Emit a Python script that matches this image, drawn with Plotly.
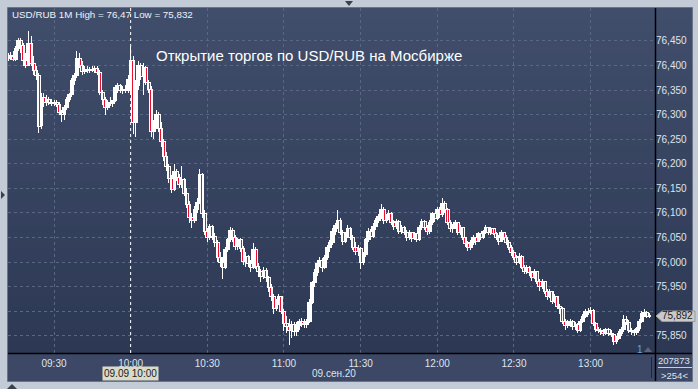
import pandas as pd
import plotly.graph_objects as go

# ---------------- data (USD/RUB, 1-minute candles, 09.09.2020) ----------------
start_time = "2020-09-09 09:12"

opens = [
76.415,76.420,76.418,76.412,76.435,76.450,76.440,76.410,76.400,76.445,
76.405,76.390,76.380,76.278,76.335,76.325,76.330,76.325,76.322,76.325,
76.320,76.305,76.300,76.315,76.330,76.340,76.370,76.380,76.415,76.400,
76.388,76.392,76.390,76.392,76.390,76.394,76.385,76.345,76.330,76.315,
76.325,76.322,76.328,76.355,76.360,76.350,76.352,76.350,76.372,76.410,
76.285,76.360,76.400,76.378,76.395,76.365,76.352,76.265,76.280,76.300,
76.272,76.245,76.215,76.195,76.170,76.148,76.185,76.172,76.158,76.168,
76.140,76.118,76.090,76.085,76.108,76.122,76.178,76.098,76.062,76.050,
76.072,76.052,76.040,76.010,76.000,75.990,76.025,76.045,76.065,76.050,
76.032,76.045,76.028,76.002,76.012,75.998,75.990,76.025,75.992,75.980,
75.970,75.982,75.968,75.948,75.930,75.905,75.918,75.930,75.900,75.875,
75.868,75.860,75.872,75.858,75.870,75.880,75.876,75.872,75.880,75.918,
75.958,75.978,75.998,76.004,75.988,76.010,76.030,76.040,76.062,76.075,
76.085,76.060,76.042,76.055,76.068,76.050,76.030,76.022,76.028,76.000,
76.015,76.045,76.062,76.052,76.072,76.085,76.092,76.108,76.085,76.092,
76.098,76.080,76.072,76.082,76.062,76.070,76.060,76.050,76.060,76.048,
76.058,76.046,76.070,76.082,76.070,76.062,76.080,76.098,76.088,76.108,
76.096,76.120,76.108,76.080,76.068,76.072,76.080,76.060,76.070,76.050,
76.038,76.030,76.040,76.050,76.042,76.058,76.050,76.062,76.070,76.060,
76.068,76.058,76.050,76.042,76.060,76.050,76.040,76.030,76.020,76.010,
76.000,76.012,75.990,75.980,75.990,75.978,75.968,75.980,75.960,75.950,
75.960,75.940,75.930,75.940,75.920,75.930,75.910,75.905,75.880,75.870,
75.876,75.880,75.868,75.874,75.860,75.880,75.890,75.900,75.898,75.902,
75.875,75.862,75.860,75.858,75.855,75.862,75.855,75.852,75.838,75.845,
75.855,75.862,75.884,75.878,75.860,75.858,75.856,75.864,75.880,75.895,
75.898,75.890]

highs = [
76.425,76.428,76.430,76.440,76.455,76.455,76.445,76.425,76.470,76.460,
76.420,76.400,76.385,76.345,76.345,76.340,76.335,76.332,76.330,76.330,
76.325,76.310,76.320,76.335,76.345,76.375,76.385,76.430,76.425,76.410,
76.398,76.398,76.396,76.398,76.398,76.398,76.390,76.350,76.335,76.330,
76.335,76.330,76.360,76.365,76.362,76.358,76.360,76.380,76.440,76.420,
76.370,76.410,76.405,76.405,76.400,76.370,76.358,76.290,76.310,76.305,
76.285,76.250,76.225,76.200,76.178,76.200,76.190,76.180,76.195,76.172,
76.150,76.125,76.100,76.115,76.130,76.190,76.182,76.105,76.070,76.078,
76.075,76.060,76.045,76.020,76.010,76.030,76.050,76.072,76.070,76.055,
76.050,76.048,76.032,76.020,76.015,76.005,76.038,76.030,75.998,75.985,
75.990,75.988,75.972,75.955,75.935,75.925,75.935,75.932,75.905,75.890,
75.885,75.880,75.878,75.878,75.885,75.886,75.884,75.885,75.925,75.962,
75.985,76.005,76.010,76.008,76.015,76.035,76.045,76.070,76.080,76.105,
76.090,76.065,76.062,76.075,76.072,76.055,76.040,76.035,76.030,76.020,
76.050,76.070,76.068,76.080,76.090,76.098,76.118,76.112,76.098,76.105,
76.102,76.085,76.088,76.085,76.075,76.074,76.065,76.065,76.062,76.062,
76.060,76.075,76.088,76.085,76.075,76.085,76.102,76.100,76.112,76.112,
76.130,76.125,76.110,76.085,76.078,76.085,76.082,76.075,76.072,76.052,
76.042,76.045,76.055,76.052,76.062,76.060,76.065,76.075,76.072,76.072,
76.070,76.062,76.055,76.065,76.062,76.055,76.045,76.035,76.025,76.015,
76.018,76.015,75.995,75.995,75.992,75.982,75.985,75.982,75.965,75.965,
75.962,75.945,75.945,75.942,75.935,75.932,75.915,75.908,75.885,75.882,
75.885,75.882,75.878,75.876,75.885,75.895,75.905,75.906,75.908,75.905,
75.878,75.868,75.866,75.864,75.866,75.865,75.862,75.855,75.850,75.860,
75.868,75.892,75.890,75.882,75.866,75.864,75.868,75.885,75.900,75.904,
75.900,75.896]

lows = [
76.410,76.412,76.410,76.410,76.430,76.425,76.400,76.395,76.398,76.400,
76.380,76.370,76.262,76.270,76.315,76.318,76.320,76.318,76.318,76.315,
76.300,76.285,76.290,76.310,76.325,76.335,76.360,76.375,76.395,76.380,
76.383,76.385,76.384,76.386,76.385,76.380,76.340,76.320,76.300,76.310,
76.318,76.315,76.325,76.345,76.345,76.342,76.345,76.345,76.340,76.260,
76.255,76.350,76.370,76.340,76.360,76.345,76.255,76.250,76.270,76.265,
76.235,76.205,76.185,76.160,76.140,76.145,76.165,76.150,76.150,76.135,
76.110,76.080,76.070,76.080,76.100,76.118,76.090,76.055,76.040,76.045,
76.045,76.030,76.000,75.990,75.965,75.985,76.020,76.040,76.040,76.025,
76.025,76.020,75.995,75.990,75.990,75.980,75.985,75.985,75.970,75.960,
75.965,75.960,75.940,75.920,75.895,75.900,75.912,75.895,75.860,75.855,
75.832,75.845,75.850,75.850,75.862,75.868,75.865,75.866,75.876,75.915,
75.950,75.972,75.990,75.980,75.985,76.005,76.020,76.035,76.055,76.068,
76.055,76.035,76.038,76.050,76.045,76.025,76.015,76.012,75.985,75.995,
76.010,76.040,76.045,76.048,76.065,76.080,76.088,76.078,76.080,76.085,
76.075,76.065,76.068,76.058,76.058,76.055,76.042,76.045,76.040,76.045,
76.040,76.042,76.065,76.065,76.055,76.058,76.075,76.082,76.085,76.090,
76.092,76.100,76.075,76.062,76.060,76.068,76.055,76.055,76.045,76.030,
76.022,76.025,76.035,76.035,76.040,76.045,76.046,76.058,76.055,76.056,
76.055,76.045,76.035,76.040,76.045,76.035,76.025,76.012,76.005,75.995,
75.996,75.985,75.975,75.975,75.972,75.962,75.965,75.955,75.942,75.946,
75.935,75.922,75.926,75.915,75.916,75.905,75.895,75.875,75.862,75.865,
75.868,75.862,75.862,75.855,75.858,75.876,75.886,75.892,75.894,75.870,
75.858,75.855,75.852,75.850,75.852,75.850,75.848,75.832,75.834,75.842,
75.850,75.858,75.872,75.855,75.852,75.850,75.852,75.860,75.876,75.888,
75.886,75.886]

closes = [
76.420,76.418,76.412,76.435,76.450,76.440,76.410,76.400,76.445,76.405,
76.390,76.380,76.275,76.335,76.325,76.330,76.325,76.322,76.325,76.320,
76.305,76.300,76.315,76.330,76.340,76.370,76.380,76.415,76.400,76.388,
76.392,76.390,76.392,76.390,76.394,76.385,76.345,76.330,76.315,76.325,
76.322,76.328,76.355,76.360,76.350,76.352,76.350,76.372,76.410,76.285,
76.360,76.400,76.378,76.395,76.365,76.352,76.265,76.280,76.300,76.272,
76.245,76.215,76.195,76.170,76.148,76.185,76.172,76.158,76.168,76.140,
76.118,76.090,76.085,76.108,76.122,76.178,76.098,76.062,76.050,76.072,
76.052,76.040,76.010,76.000,75.990,76.025,76.045,76.065,76.050,76.032,
76.045,76.028,76.002,76.012,75.998,75.990,76.025,75.992,75.980,75.970,
75.982,75.968,75.948,75.930,75.905,75.918,75.930,75.900,75.875,75.868,
75.860,75.872,75.858,75.870,75.880,75.876,75.872,75.880,75.918,75.958,
75.978,75.998,76.004,75.988,76.010,76.030,76.040,76.062,76.075,76.085,
76.060,76.042,76.055,76.068,76.050,76.030,76.022,76.028,76.000,76.015,
76.045,76.062,76.052,76.072,76.085,76.092,76.108,76.085,76.092,76.098,
76.080,76.072,76.082,76.062,76.070,76.060,76.050,76.060,76.048,76.058,
76.046,76.070,76.082,76.070,76.062,76.080,76.098,76.088,76.108,76.096,
76.120,76.108,76.080,76.068,76.072,76.080,76.060,76.070,76.050,76.038,
76.030,76.040,76.050,76.042,76.058,76.050,76.062,76.070,76.060,76.068,
76.058,76.050,76.042,76.060,76.050,76.040,76.030,76.020,76.010,76.000,
76.012,75.990,75.980,75.990,75.978,75.968,75.980,75.960,75.950,75.960,
75.940,75.930,75.940,75.920,75.930,75.910,75.905,75.880,75.870,75.876,
75.880,75.868,75.874,75.860,75.880,75.890,75.900,75.898,75.902,75.875,
75.862,75.860,75.858,75.855,75.862,75.855,75.852,75.838,75.845,75.855,
75.862,75.884,75.878,75.860,75.858,75.856,75.864,75.880,75.895,75.898,
75.890,75.892]

y_ticks = [75.85, 75.90, 75.95, 76.00, 76.05, 76.10, 76.15, 76.20,
           76.25, 76.30, 76.35, 76.40, 76.45]
y_tick_labels = ["75,850", "", "75,950", "76,000", "76,050", "76,100", "76,150",
                 "76,200", "76,250", "76,300", "76,350", "76,400", "76,450"]
x_ticks = ["2020-09-09 09:30", "2020-09-09 10:00", "2020-09-09 10:30",
           "2020-09-09 11:00", "2020-09-09 11:30", "2020-09-09 12:00",
           "2020-09-09 12:30", "2020-09-09 13:00"]
x_tick_labels = ["09:30", "10:00", "10:30", "11:00", "11:30", "12:00", "12:30", "13:00"]

header_text = "USD/RUB 1M High = 76,47 Low = 75,832"
title_text = "Открытие торгов по USD/RUB на Мосбирже"
cursor_time = "2020-09-09 10:00"
cursor_label = "09.09 10:00"
date_label = "09.сен.20"
last_price = 75.892
last_price_label = "75,892"
volume_text = "207873"
bars_text = ">254<"

times = pd.date_range(start_time, periods=len(closes), freq="min")

# ---------------- geometry helpers (pixel -> paper) ----------------
W, H = 698, 389
L, R, T, B = 8, 655, 8, 353


def px(x):
    return (x - L) / (R - L)


def py(y):
    return (B - y) / (B - T)


FONT = "Liberation Sans, Arial, sans-serif"
TXT = "#dfe4ee"
UP = "#ffffff"
DOWN = "#e8102e"

# wicks
wx, wy = [], []
for t, h, l in zip(times, highs, lows):
    wx += [t, t, None]
    wy += [l, h, None]

up_x, up_b, up_h, dn_x, dn_b, dn_h = [], [], [], [], [], []
for t, o, c in zip(times, opens, closes):
    if c > o:
        up_x.append(t); up_b.append(o); up_h.append(max(c - o, 0.0005))
    else:
        dn_x.append(t); dn_b.append(c); dn_h.append(max(o - c, 0.0005))

fig = go.Figure()
fig.add_trace(go.Scatter(x=wx, y=wy, mode="lines",
                         line=dict(color="#ffffff", width=1),
                         hoverinfo="skip", showlegend=False))
fig.add_trace(go.Bar(x=up_x, y=up_h, base=up_b, width=72000,
                     marker=dict(color=UP, line=dict(color="#ffffff", width=1)),
                     hoverinfo="skip", showlegend=False))
fig.add_trace(go.Bar(x=dn_x, y=dn_h, base=dn_b, width=72000,
                     marker=dict(color=DOWN, line=dict(color="#ffffff", width=1)),
                     hoverinfo="skip", showlegend=False))

shapes = []
# gradient background over plot + right axis region
top_c = (0x41, 0x4e, 0x6b)
bot_c = (0x2c, 0x38, 0x54)
N = 30
for k in range(N):
    f = (k + 0.5) / N
    c = tuple(round(top_c[j] + (bot_c[j] - top_c[j]) * f) for j in range(3))
    shapes.append(dict(type="rect", xref="paper", yref="paper", layer="below",
                       x0=px(8), x1=px(692), y0=1 - (k + 1) / N - 0.002, y1=1 - k / N,
                       fillcolor="rgb(%d,%d,%d)" % c, line=dict(width=0)))
# bottom time-axis strip
shapes.append(dict(type="rect", xref="paper", yref="paper", layer="below",
                   x0=px(8), x1=px(692), y0=py(381), y1=py(353),
                   fillcolor="#3c4865", line=dict(width=0)))
# inner frame border
shapes.append(dict(type="rect", xref="paper", yref="paper", layer="above",
                   x0=px(7.5), x1=px(692.5), y0=py(381.5), y1=py(7.5),
                   line=dict(color="#6b7488", width=1)))
# black separators
shapes.append(dict(type="line", xref="paper", yref="paper", layer="above",
                   x0=px(655.5), x1=px(655.5), y0=py(381), y1=py(8),
                   line=dict(color="#000000", width=1.5)))
shapes.append(dict(type="line", xref="paper", yref="paper", layer="above",
                   x0=px(8), x1=px(692), y0=py(353.5), y1=py(353.5),
                   line=dict(color="#000000", width=1.5)))
# thin separator in bottom strip
shapes.append(dict(type="line", xref="paper", yref="paper", layer="above",
                   x0=px(651.5), x1=px(651.5), y0=py(378), y1=py(357),
                   line=dict(color="#1e2535", width=1)))
# line between volume and bar count
shapes.append(dict(type="line", xref="paper", yref="paper", layer="above",
                   x0=px(658), x1=px(692), y0=py(367.5), y1=py(367.5),
                   line=dict(color="#c8cfdc", width=1)))
# cursor (crosshair) vertical dotted line
shapes.append(dict(type="line", xref="x", yref="paper", layer="above",
                   x0=cursor_time, x1=cursor_time, y0=0, y1=1,
                   line=dict(color="#ffffff", width=1, dash="dot")))
# last price arrow box
shapes.append(dict(type="path", xref="paper", yref="paper", layer="above",
                   path="M %f %f L %f %f L %f %f L %f %f L %f %f Z" % (
                       px(656), py(316), px(662), py(311), px(695), py(311),
                       px(695), py(321.5), px(662), py(321.5)),
                   fillcolor="#c9c9c9", line=dict(color="#9a9a9a", width=1)))


def tri(pts, color="#3a404c"):
    p = "M " + " L ".join("%f %f" % (px(a), py(b)) for a, b in pts) + " Z"
    return dict(type="path", xref="paper", yref="paper", layer="above", path=p,
                fillcolor=color, line=dict(width=0))


shapes.append(tri([(345, 1), (353, 1), (349, 6)]))
shapes.append(tri([(1, 191), (1, 199), (5, 195)]))
shapes.append(tri([(7, 389), (17, 389), (12, 384)]))
shapes.append(tri([(644, 352), (652, 352), (648, 347)], "#5b6478"))

annotations = [
    dict(text=header_text, xref="paper", yref="paper", x=px(10), y=py(15),
         xanchor="left", yanchor="middle", showarrow=False,
         font=dict(family=FONT, size=9.8, color="#eef1f6")),
    dict(text=title_text, xref="paper", yref="paper", x=px(309), y=py(55),
         xanchor="center", yanchor="middle", showarrow=False,
         font=dict(family=FONT, size=15, color="#ffffff")),
    dict(text=cursor_label, xref="x", yref="paper", x=cursor_time, y=py(373.5),
         xanchor="center", yanchor="middle", showarrow=False,
         bgcolor="#dadac8", borderpad=1,
         font=dict(family=FONT, size=10, color="#202020")),
    dict(text=date_label, xref="paper", yref="paper", x=px(334), y=py(373),
         xanchor="center", yanchor="middle", showarrow=False,
         font=dict(family=FONT, size=10, color=TXT)),
    dict(text=last_price_label, xref="paper", yref="y", x=px(677), y=last_price,
         xanchor="center", yanchor="middle", showarrow=False,
         font=dict(family=FONT, size=10, color="#1a1a1a")),
    dict(text=volume_text, xref="paper", yref="paper", x=px(674), y=py(360),
         xanchor="center", yanchor="middle", showarrow=False,
         font=dict(family=FONT, size=9.5, color=TXT)),
    dict(text=bars_text, xref="paper", yref="paper", x=px(674), y=py(375),
         xanchor="center", yanchor="middle", showarrow=False,
         font=dict(family=FONT, size=9.5, color=TXT)),
    dict(text="1", xref="paper", yref="paper", x=px(640), y=py(349),
         xanchor="center", yanchor="middle", showarrow=False,
         font=dict(family=FONT, size=10, color="#5aa6ee")),
]

fig.update_layout(
    width=W, height=H,
    margin=dict(l=L, r=W - R, t=T, b=H - B, pad=0),
    paper_bgcolor="#c3cbd7",
    plot_bgcolor="rgba(0,0,0,0)",
    separators=", ",
    showlegend=False,
    barmode="overlay",
    shapes=shapes,
    annotations=annotations,
    xaxis=dict(
        type="date",
        range=["2020-09-09 09:12:00", "2020-09-09 13:25:12"],
        tickvals=x_ticks, ticktext=x_tick_labels,
        showgrid=True, gridcolor="#5a6784", griddash="3px,3px", gridwidth=1,
        zeroline=False, showline=False, ticks="",
        ticklabelstandoff=3,
        tickfont=dict(family=FONT, size=10, color=TXT),
        fixedrange=True,
    ),
    yaxis=dict(
        side="right",
        range=[75.815, 76.517],
        tickvals=y_ticks, ticktext=y_tick_labels,
        showgrid=True, gridcolor="#5a6784", griddash="3px,3px", gridwidth=1,
        zeroline=False, showline=False, ticks="",
        tickfont=dict(family=FONT, size=10, color=TXT),
        fixedrange=True,
    ),
)

crisp_js = (
    "document.querySelectorAll('.bars path, .scatterlayer .js-line')"
    ".forEach(function(p){p.style.shapeRendering='crispEdges';});"
)
fig.write_html("out.html", post_script=crisp_js)
